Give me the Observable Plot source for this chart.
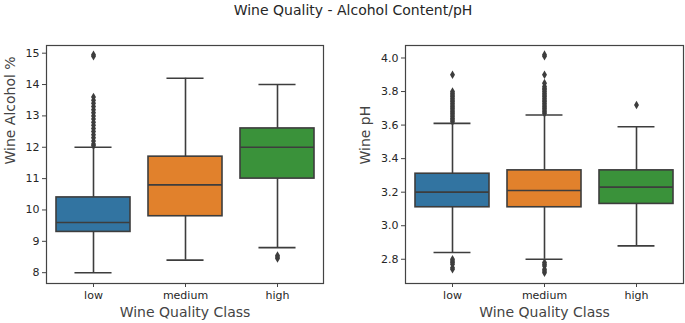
<!DOCTYPE html>
<html>
<head>
<meta charset="utf-8">
<script src="https://cdn.jsdelivr.net/npm/d3@7"></script>
<script src="https://cdn.jsdelivr.net/npm/@observablehq/plot@0.6"></script>
<style>
  html, body { margin: 0; padding: 0; background: #fff; }
  #wrap { position: relative; width: 685px; height: 323px; overflow: hidden; font-family: "DejaVu Sans", sans-serif; }
  #title { position: absolute; left: 0; top: 2px; width: 706px; text-align: center; font-size: 14px; color: #262626; }
  .panel { position: absolute; top: 0; }
</style>
</head>
<body>
<div id="wrap">
  <div id="title">Wine Quality - Alcohol Content/pH</div>
  <div id="p1" class="panel" style="left:0px"></div>
  <div id="p2" class="panel" style="left:345px"></div>
</div>
<script>
// ---- data ----
const classes = ["low", "medium", "high"];
const boxColors = ["#3274a1", "#e1812c", "#3a923a"];

// Alcohol %
const alcoholWhiskerLow  = [8.0, 8.4, 8.8];
const alcoholQ1          = [9.3, 9.8, 11.0];
const alcoholMedian      = [9.6, 10.8, 12.0];
const alcoholQ3          = [10.4, 11.7, 12.6];
const alcoholWhiskerHigh = [12.0, 14.2, 14.0];
const alcoholOutliersLowClass  = [12.05, 12.1, 12.2, 12.3, 12.4, 12.5, 12.6, 12.7, 12.8, 12.9, 13.0, 13.1, 13.2, 13.3, 13.4, 13.5, 13.6, 14.9, 14.95];
const alcoholOutliersMediumClass = [];
const alcoholOutliersHighClass = [8.45, 8.5, 8.55];
const alcoholTicks = [8, 9, 10, 11, 12, 13, 14, 15];

// pH
const phWhiskerLow  = [2.84, 2.80, 2.88];
const phQ1          = [3.11, 3.11, 3.13];
const phMedian      = [3.20, 3.21, 3.23];
const phQ3          = [3.31, 3.33, 3.33];
const phWhiskerHigh = [3.61, 3.66, 3.59];
const phOutliersLowClass = [2.74, 2.75, 2.77, 2.78, 2.79, 2.80, 3.62, 3.63, 3.64, 3.65, 3.66, 3.67, 3.68, 3.69, 3.70, 3.71, 3.72, 3.73, 3.74, 3.75, 3.76, 3.77, 3.78, 3.79, 3.80, 3.90];
const phOutliersMediumClass = [2.72, 2.73, 2.74, 2.76, 2.77, 2.78, 3.67, 3.68, 3.69, 3.70, 3.71, 3.72, 3.73, 3.74, 3.75, 3.76, 3.77, 3.78, 3.79, 3.80, 3.81, 3.82, 3.83, 3.85, 3.90, 4.01, 4.02];
const phOutliersHighClass = [3.72];
const phTicks = [2.8, 3.0, 3.2, 3.4, 3.6, 3.8, 4.0];

const xLabel = "Wine Quality Class";

// ---- drawing ----
const lineColor = "#3d3d3d";
const textColor = "#262626";

function panel({lo, q1, med, q3, hi, outliers, domain, ticks, tickFormat, ylabel, ylabelDx, width, marginLeft, marginRight}) {
  const rows = classes.map((c, i) => ({cls: c, lo: lo[i], q1: q1[i], med: med[i], q3: q3[i], hi: hi[i]}));
  const pts = [];
  classes.forEach((c, i) => outliers[i].forEach(v => pts.push({cls: c, v})));
  const plotW = width - marginLeft - marginRight;
  const step = plotW / 3;
  const cap = step * 0.8 / 4;
  return Plot.plot({
    width, height: 323,
    marginLeft, marginRight, marginTop: 45, marginBottom: 40,
    style: {fontFamily: "DejaVu Sans, sans-serif", color: textColor, background: "transparent", overflow: "visible"},
    x: {domain: classes, paddingInner: 0.2, paddingOuter: 0.1, label: null},
    y: {domain, label: null},
    color: {domain: classes, range: boxColors},
    marks: [
      Plot.ruleX(rows, {x: "cls", y1: "lo", y2: "q1", stroke: lineColor, strokeWidth: 1.6}),
      Plot.ruleX(rows, {x: "cls", y1: "q3", y2: "hi", stroke: lineColor, strokeWidth: 1.6}),
      Plot.barY(rows, {x: "cls", y1: "q1", y2: "q3", fill: "cls", stroke: lineColor, strokeWidth: 1.6}),
      Plot.tickY(rows, {x: "cls", y: "med", stroke: lineColor, strokeWidth: 1.6}),
      Plot.tickY(rows, {x: "cls", y: "lo", stroke: lineColor, strokeWidth: 1.6, insetLeft: cap, insetRight: cap}),
      Plot.tickY(rows, {x: "cls", y: "hi", stroke: lineColor, strokeWidth: 1.6, insetLeft: cap, insetRight: cap}),
      Plot.dot(pts, {x: "cls", y: "v", symbol: "diamond", r: 2.6, fill: lineColor, stroke: "none"}),
      Plot.frame({stroke: "#444", strokeWidth: 1.2}),
      Plot.axisY({ticks, tickFormat, tickSize: 4, tickPadding: 3, fontSize: 11, label: null, stroke: "#444"}),
      Plot.axisX({tickSize: 4, tickPadding: 4, fontSize: 11, label: null, stroke: "#444"}),
      Plot.text([ylabel], {text: d => d, frameAnchor: "left", rotate: -90, dx: ylabelDx, fontSize: 14, fill: "#444"}),
      Plot.text([xLabel], {text: d => d, frameAnchor: "bottom", lineAnchor: "middle", dy: 29, fontSize: 14, fill: "#444"})
    ]
  });
}

document.getElementById("p1").append(panel({
  lo: alcoholWhiskerLow, q1: alcoholQ1, med: alcoholMedian, q3: alcoholQ3, hi: alcoholWhiskerHigh,
  outliers: [alcoholOutliersLowClass, alcoholOutliersMediumClass, alcoholOutliersHighClass],
  domain: [7.655, 15.245], ticks: alcoholTicks, tickFormat: d3.format("d"),
  ylabel: "Wine Alcohol %", ylabelDx: -36,
  width: 340, marginLeft: 46, marginRight: 17
}));

document.getElementById("p2").append(panel({
  lo: phWhiskerLow, q1: phQ1, med: phMedian, q3: phQ3, hi: phWhiskerHigh,
  outliers: [phOutliersLowClass, phOutliersMediumClass, phOutliersHighClass],
  domain: [2.6555, 4.0745], ticks: phTicks, tickFormat: d3.format(".1f"),
  ylabel: "Wine pH", ylabelDx: -40,
  width: 340, marginLeft: 60, marginRight: 2
}));
</script>
</body>
</html>
